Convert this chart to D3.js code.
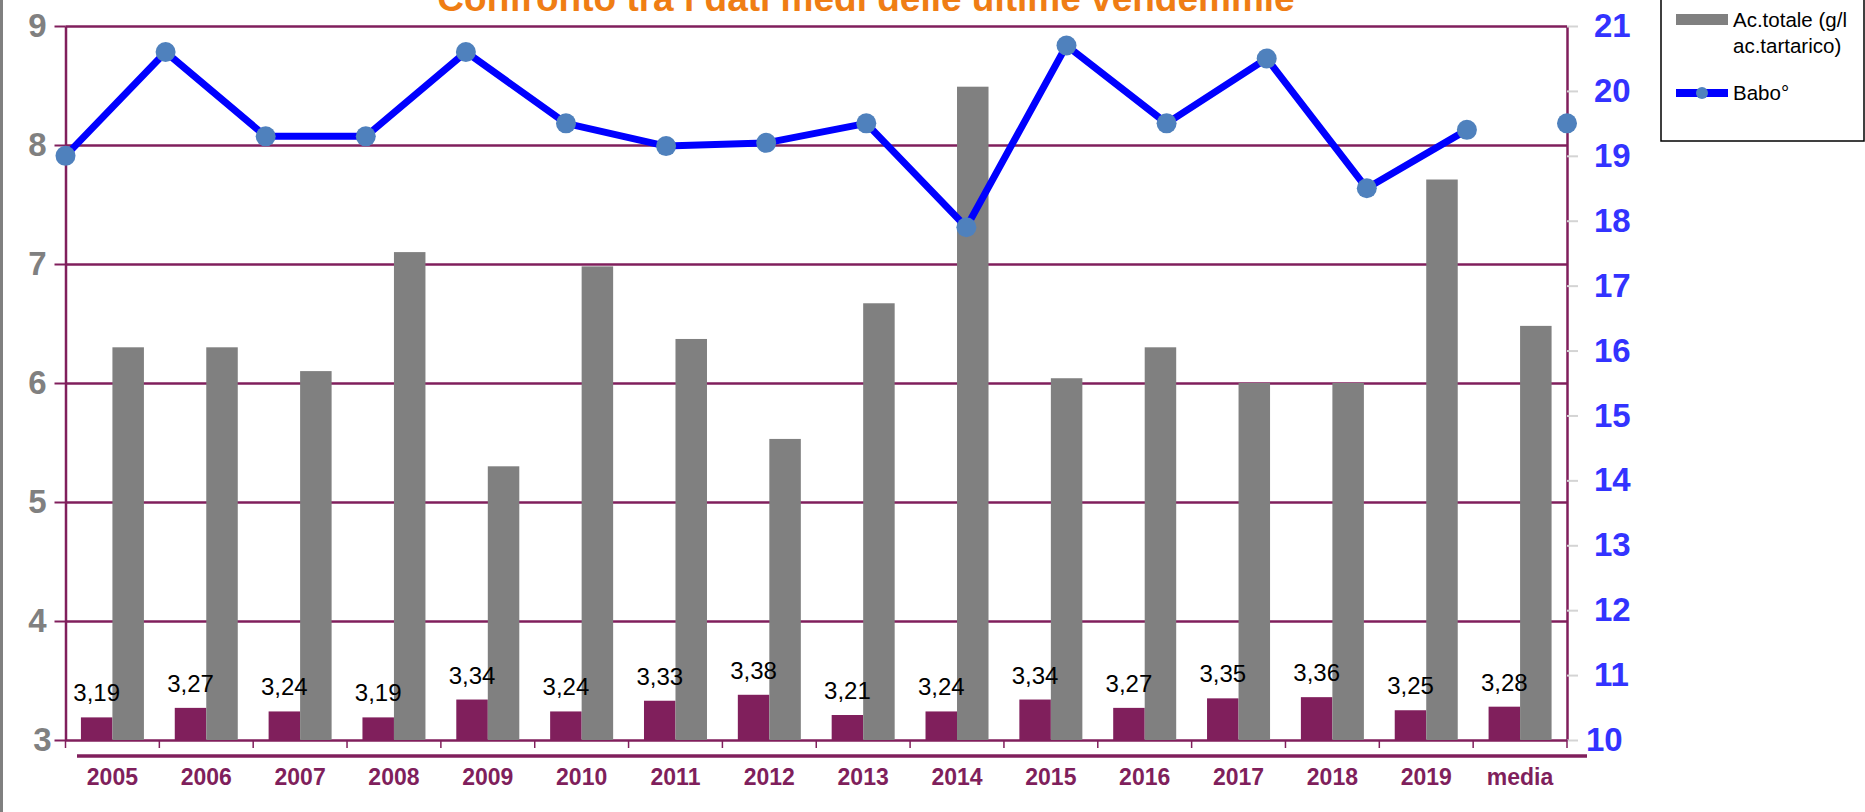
<!DOCTYPE html>
<html>
<head>
<meta charset="utf-8">
<script src="https://cdn.jsdelivr.net/npm/d3@7"></script>
<style>
  body { margin: 0; background: #fff; }
  svg { display: block; font-family: "Liberation Sans", Arial, sans-serif; }
</style>
</head>
<body>
<svg id="chart" width="1865" height="812"></svg>
<script>
// values
var categories = ["2005","2006","2007","2008","2009","2010","2011","2012","2013","2014","2015","2016","2017","2018","2019","media"];
var phValues = [3.19, 3.27, 3.24, 3.19, 3.34, 3.24, 3.33, 3.38, 3.21, 3.24, 3.34, 3.27, 3.35, 3.36, 3.25, 3.28];
var acTotale = [6.30, 6.30, 6.10, 7.10, 5.30, 6.98, 6.37, 5.53, 6.67, 8.49, 6.04, 6.30, 6.00, 6.00, 7.71, 6.48];
var baboValues = [19.0, 20.6, 19.3, 19.3, 20.6, 19.5, 19.15, 19.2, 19.5, 17.9, 20.7, 19.5, 20.5, 18.5, 19.4, 19.5];
var leftTicks = [3, 4, 5, 6, 7, 8, 9];
var rightTicks = [10, 11, 12, 13, 14, 15, 16, 17, 18, 19, 20, 21];

var purple = "#801f5c";
var plotLeft = 65.5, plotRight = 1567, plotTop = 26, plotBottom = 740;
var svg = d3.select("#chart");

// outer border on the left side
svg.append("rect").attr("x", 0).attr("y", 0).attr("width", 3).attr("height", 812).attr("fill", "#808080");

var xBand = d3.scaleBand().domain(categories).range([plotLeft, plotRight]);
var xPoint = d3.scalePoint().domain(categories).range([plotLeft, plotRight]);
var yL = d3.scaleLinear().domain([3, 9]).range([plotBottom, plotTop]);
var yR = d3.scaleLinear().domain([10, 21]).range([plotBottom, plotTop]);
var barW = 31.5;

// title (cut at the top like the original)
svg.append("text")
    .attr("x", 866).attr("y", 11)
    .attr("text-anchor", "middle")
    .attr("font-size", "37px").attr("font-weight", "bold")
    .attr("fill", "#ef7d14")
    .text("Confronto tra i dati medi delle ultime vendemmie");

// horizontal grid
var grid = svg.append("g").attr("transform", "translate(" + plotLeft + ",0)")
    .call(d3.axisLeft(yL).tickValues(leftTicks).tickSize(-(plotRight - plotLeft)).tickFormat(""));
grid.select(".domain").remove();
grid.selectAll("line").attr("stroke", purple).attr("stroke-width", 2.5);

// left axis
var axL = svg.append("g").attr("transform", "translate(" + plotLeft + ",0)")
    .call(d3.axisLeft(yL).tickValues(leftTicks).tickFormat(d3.format("d"))
        .tickSize(11).tickSizeOuter(0).tickPadding(8));
axL.select(".domain").attr("stroke", purple).attr("stroke-width", 2.5);
axL.selectAll("line").attr("stroke", purple).attr("stroke-width", 2);
axL.selectAll("text")
    .attr("font-size", "33px").attr("font-weight", "bold").attr("fill", "#808080")
    .attr("font-family", "'Liberation Sans', Arial, sans-serif")
    .attr("dx", function (d) { return d === 3 ? 5 : 0; });

// right axis
var axR = svg.append("g").attr("transform", "translate(" + plotRight + ",0)")
    .call(d3.axisRight(yR).tickValues(rightTicks).tickFormat(d3.format("d"))
        .tickSize(11).tickSizeOuter(0).tickPadding(16));
axR.select(".domain").attr("stroke", purple).attr("stroke-width", 2.5);
axR.selectAll("line").attr("stroke", "#d4d4d4").attr("stroke-width", 2);
axR.selectAll("text")
    .attr("font-size", "33px").attr("font-weight", "bold").attr("fill", "#3333ff")
    .attr("font-family", "'Liberation Sans', Arial, sans-serif")
    .attr("dx", function (d) { return d === 10 ? -8 : 0; });

// category ticks under the x axis
svg.append("g").selectAll("line")
    .data(categories.concat(["end"]))
    .enter().append("line")
    .attr("x1", function (d) { return d === "end" ? plotRight : xBand(d); })
    .attr("x2", function (d) { return d === "end" ? plotRight : xBand(d); })
    .attr("y1", plotBottom).attr("y2", plotBottom + 8)
    .attr("stroke", purple).attr("stroke-width", 1.5);

// thick line under the axis
svg.append("line")
    .attr("x1", 77).attr("x2", 1587).attr("y1", 756).attr("y2", 756)
    .attr("stroke", purple).attr("stroke-width", 3.5);

// category labels
svg.append("g").selectAll("text")
    .data(categories)
    .enter().append("text")
    .attr("x", function (d) { return xBand(d) + xBand.bandwidth() / 2; })
    .attr("y", 785)
    .attr("text-anchor", "middle")
    .attr("font-size", "23px").attr("font-weight", "bold").attr("fill", purple)
    .text(function (d) { return d; });

// bars
svg.append("g").selectAll("rect")
    .data(phValues)
    .enter().append("rect")
    .attr("x", function (d, i) { return xBand(categories[i]) + xBand.bandwidth() / 2 - barW; })
    .attr("y", function (d) { return yL(d); })
    .attr("width", barW)
    .attr("height", function (d) { return plotBottom - yL(d); })
    .attr("fill", purple);

svg.append("g").selectAll("rect")
    .data(acTotale)
    .enter().append("rect")
    .attr("x", function (d, i) { return xBand(categories[i]) + xBand.bandwidth() / 2; })
    .attr("y", function (d) { return yL(d); })
    .attr("width", barW)
    .attr("height", function (d) { return plotBottom - yL(d); })
    .attr("fill", "#808080");

// data labels of the purple bars
svg.append("g").selectAll("text")
    .data(phValues)
    .enter().append("text")
    .attr("x", function (d, i) { return xBand(categories[i]) + xBand.bandwidth() / 2 - barW / 2; })
    .attr("y", function (d) { return yL(d) - 16; })
    .attr("text-anchor", "middle")
    .attr("font-size", "24px").attr("fill", "#000")
    .text(function (d) { return d.toFixed(2).replace(".", ","); });

// Babo line (the "media" point stands alone)
var line = d3.line()
    .defined(function (d, i) { return categories[i] !== "media"; })
    .x(function (d, i) { return xPoint(categories[i]); })
    .y(function (d) { return yR(d); });

svg.append("path")
    .datum(baboValues)
    .attr("d", line)
    .attr("fill", "none")
    .attr("stroke", "#0000ff")
    .attr("stroke-width", 7)
    .attr("stroke-linejoin", "round");

svg.append("g").selectAll("circle")
    .data(baboValues)
    .enter().append("circle")
    .attr("cx", function (d, i) { return xPoint(categories[i]); })
    .attr("cy", function (d) { return yR(d); })
    .attr("r", 10)
    .attr("fill", "#4f81bd");

// legend
var legend = svg.append("g");
legend.append("rect")
    .attr("x", 1661).attr("y", -3).attr("width", 203).attr("height", 144)
    .attr("fill", "#fff").attr("stroke", "#000").attr("stroke-width", 1.5);
legend.append("rect")
    .attr("x", 1676).attr("y", 14).attr("width", 52).attr("height", 11)
    .attr("fill", "#808080");
legend.append("text").attr("x", 1733).attr("y", 27)
    .attr("font-size", "20.5px").attr("fill", "#000").text("Ac.totale (g/l");
legend.append("text").attr("x", 1733).attr("y", 53)
    .attr("font-size", "20.5px").attr("fill", "#000").text("ac.tartarico)");
legend.append("line")
    .attr("x1", 1676).attr("x2", 1728).attr("y1", 93).attr("y2", 93)
    .attr("stroke", "#0000ff").attr("stroke-width", 8);
legend.append("circle")
    .attr("cx", 1702).attr("cy", 93).attr("r", 6).attr("fill", "#4f81bd");
legend.append("text").attr("x", 1733).attr("y", 100)
    .attr("font-size", "20.5px").attr("fill", "#000").text("Babo°");
</script>
</body>
</html>
